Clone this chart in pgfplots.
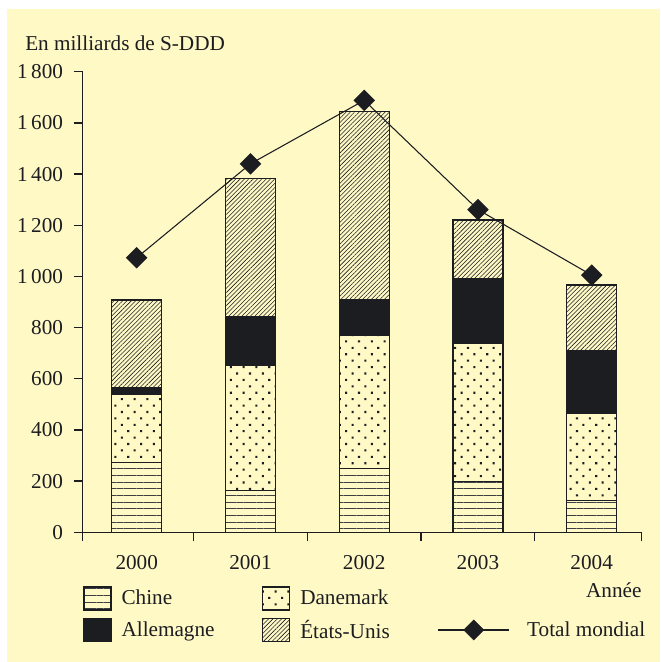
\documentclass[border=0pt]{standalone}
\usepackage{fontspec}
\setmainfont{Liberation Serif}
\usepackage{pgfplots}
\pgfplotsset{compat=1.18}
\usetikzlibrary{patterns.meta}

\definecolor{bgc}{RGB}{255,249,198}
\definecolor{ink}{RGB}{28,29,33}
\newcommand{\lab}{\fontsize{15.9}{19}\selectfont}

\pgfplotsset{
  chine/.style={draw=ink, line width=1pt, pattern={Lines[angle=0,distance=5pt,line width=0.55pt]}, pattern color=ink!85},
  danemark/.style={draw=ink, line width=1pt, pattern={Dots[angle=45,distance=6.8pt,radius=1.1pt]}, pattern color=ink},
  allemagne/.style={draw=ink, line width=1pt, fill=ink},
  etats/.style={draw=ink, line width=1pt, pattern={Lines[angle=45,distance=2.3pt,line width=0.42pt]}, pattern color=ink},
  swatch/.style={legend image code/.code={\draw[##1] (0pt,-8.6pt) rectangle (20.25pt,8.6pt);}},
  totalleg/.style={legend image code/.code={%
    \draw[ink, line width=0.8pt] (0pt,0pt) -- (53.2pt,0pt);
    \fill[ink] (26.6pt,7.5pt) -- (34.1pt,0pt) -- (26.6pt,-7.5pt) -- (19.1pt,0pt) -- cycle;
    \path (59pt,0pt);}},
  common/.style={at={(0pt,0pt)}, anchor=south west, scale only axis,
    width=419.25pt, height=345.45pt,
    xmin=-0.475, xmax=4.44, ymin=0, ymax=1800},
}

\begin{document}
\begin{tikzpicture}
% page background (white strip on the left and top)
\fill[white] (-62.025pt,399.225pt) rectangle (433pt,-97.275pt);
\fill[bgc] (-56.775pt,392.475pt) rectangle (433pt,-97.275pt);

\begin{axis}[common, clip=false,
  ybar stacked, bar width=37.5pt,
  axis x line*=bottom, axis y line*=left,
  axis line style={ink, line width=1pt},
  tick style={ink, line width=1pt},
  tick align=outside, major tick length=6.75pt,
  ytick={0,200,...,1800},
  xtick={-0.475,0.5,1.5,2.5,3.5,4.44}, xticklabels={},
  extra x ticks={0,1,2,3,4},
  extra x tick labels={2000,2001,2002,2003,2004},
  extra x tick style={major tick length=0pt},
  tick label style={font=\lab, text=ink},
  xticklabel style={yshift=-14pt},
  yticklabel style={xshift=-4.5pt},
  /pgf/number format/assume math mode=true,
  /pgf/number format/1000 sep={\,},
  legend style={at={(axis description cs:0.0005,-0.1166)}, anchor=north west,
    draw=none, fill=none, inner sep=0pt, font=\lab, text=ink,
    legend columns=3, row sep=5pt,
    /tikz/every odd column/.style={column sep=5.5pt},
    /tikz/column 2/.style={column sep=33.5pt},
    /tikz/column 4/.style={column sep=34pt}},
  legend cell align=left,
]
\addlegendimage{chine, swatch}\addlegendentry{Chine}
\addlegendimage{danemark, swatch}\addlegendentry{Danemark}
\addlegendimage{empty legend}\addlegendentry{}
\addlegendimage{allemagne, swatch}\addlegendentry{Allemagne}
\addlegendimage{etats, swatch}\addlegendentry{États-Unis}
\addlegendimage{totalleg}\addlegendentry{Total mondial}

% Chine
\addplot[chine, forget plot] coordinates {(0,273) (1,164) (2,250) (3,198) (4,125)};
% Danemark
\addplot[danemark, forget plot] coordinates {(0,266) (1,489) (2,521) (3,539) (4,340)};
% Allemagne
\addplot[allemagne, forget plot] coordinates {(0,26) (1,189) (2,138) (3,254) (4,243)};
% Etats-Unis
\addplot[etats, forget plot] coordinates {(0,343) (1,540) (2,736) (3,230) (4,258)};

\node[anchor=west, inner sep=0pt, font=\lab, text=ink] at (rel axis cs:-0.1032,1.0623) {En milliards de S-DDD};
\node[anchor=east, inner sep=0pt, font=\lab, text=ink] at (rel axis cs:1,-0.125) {Année};
\end{axis}

% total mondial, on its own axis so it is not stacked
\begin{axis}[common, hide axis, clip=false]
\addplot[ink, line width=0.8pt, mark=square*, mark size=5.3pt, mark options={rotate=45, fill=ink}]
  coordinates {(0,1073) (1,1440) (2,1688) (3,1261) (4,1005)};
\end{axis}

\pgfresetboundingbox
\useasboundingbox (-62.025pt,399.225pt) rectangle (433pt,-97.275pt);
\end{tikzpicture}
\end{document}
